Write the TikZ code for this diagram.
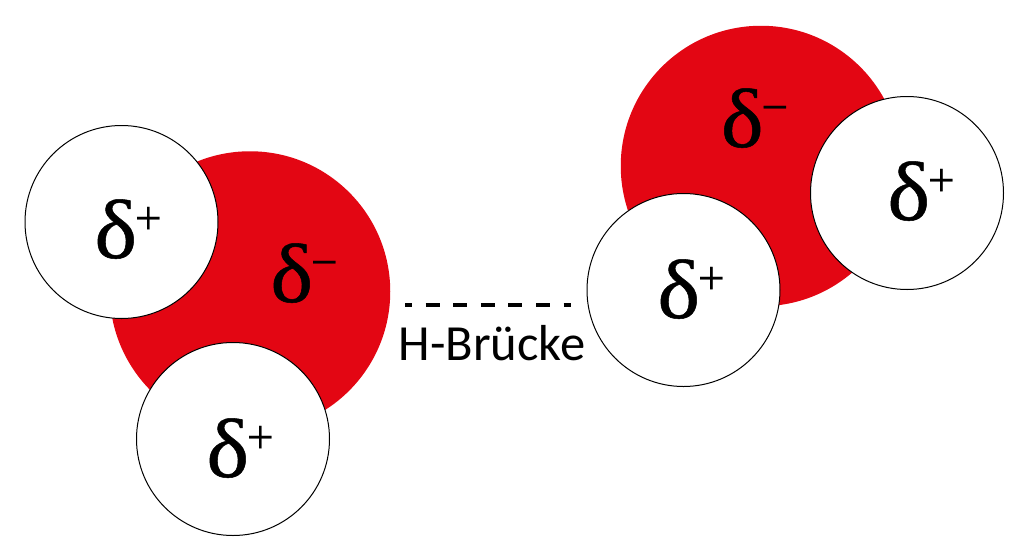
\documentclass[tikz,border=0pt]{standalone}
\usepackage{fontspec}
\setmainfont{Carlito}
\newfontfamily\grk[FakeBold=0.6,FakeStretch=1.08]{Liberation Serif}
\newfontfamily\sgn[FakeBold=0.3]{Liberation Serif}
\definecolor{oxy}{RGB}{227,6,19}
\tikzset{
 oxygen/.style={circle,fill=oxy,inner sep=0pt,minimum size=140.25pt},
 hydro/.style={circle,draw=black,line width=0.5pt,fill=white,inner sep=0pt,minimum size=96.5pt},
 chg/.style={inner sep=0pt,anchor=base west,font=\grk\fontsize{42}{42}\selectfont},
 lab/.style={inner sep=0pt,font=\fontsize{25.3}{26}\selectfont},
}
\newcommand{\dl}[1]{δ\kern-1.2pt\raisebox{12pt}{\sgn\fontsize{24}{24}\selectfont #1}}
\begin{document}
\begin{tikzpicture}[x=0.5pt,y=-0.5pt]
\useasboundingbox (0,0) rectangle (1024,558);
\fill[white] (0,0) rectangle (1024,558);
\node[oxygen] (o1) at (250,291.5) {};
\node[hydro] (h1) at (121.5,222) {};
\node[hydro] (h2) at (233,439) {};
\node[oxygen] (o2) at (761,166) {};
\node[hydro] (h3) at (907,193) {};
\node[hydro] (h4) at (683.5,290) {};
\node[chg] (c1) at (270,302) {\dl{−}};
\node[chg] (c2) at (720.5,147) {\dl{−}};
\node[chg] (c3) at (94,258) {\dl{+}};
\node[chg] (c4) at (206,477) {\dl{+}};
\node[chg] (c5) at (887,220) {\dl{+}};
\node[chg] (c6) at (657,318) {\dl{+}};
\coordinate (b1) at (405,305);
\coordinate (b2) at (571,305);
\draw[line width=2.2pt,dash pattern=on 7pt off 6.8pt,dash phase=3.5pt] (b1) -- (b2);
\node[lab] (t) at (492,343) {H-Brücke};
\end{tikzpicture}
\end{document}
